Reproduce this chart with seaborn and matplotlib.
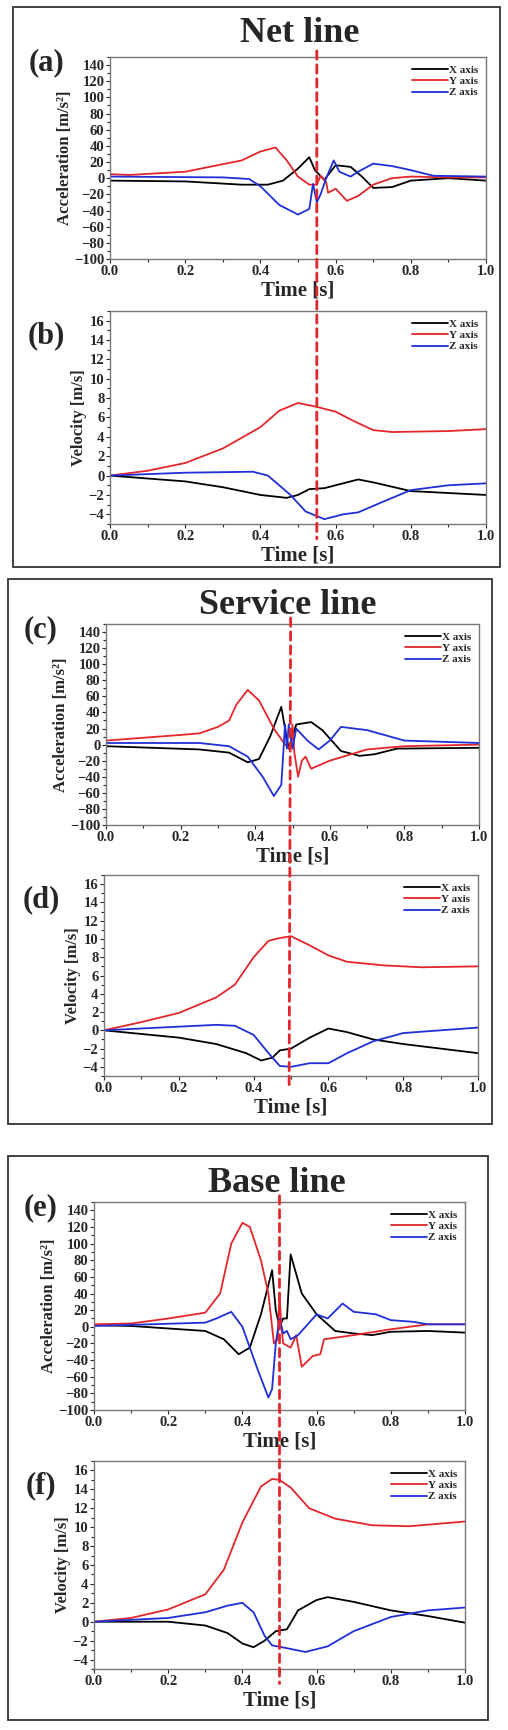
import numpy as np
import pandas as pd
import seaborn as sns
import matplotlib.pyplot as plt
from matplotlib.patches import ConnectionPatch, Rectangle
from matplotlib.transforms import blended_transform_factory
from matplotlib.ticker import MultipleLocator

sns.set_theme(style="white")
plt.rcParams['font.family'] = ['Liberation Serif', 'DejaVu Serif']
plt.rcParams['font.weight'] = 'bold'

# ---- data: (time, value) pairs ----
# (a) net line acceleration
a_x_t = [0, .2, .35, .42, .46, .5, .53, .545, .57, .6, .64, .67, .7, .75, .8, .9, 1.0]
a_x_v = [-3, -4, -8, -8, -3, 12, 26, 10, -2, 16, 14, 2, -12, -11, -3, 0, -3]
a_y_t = [0, .05, .2, .35, .4, .44, .47, .5, .53, .55, .56, .575, .58, .6, .63, .66, .7, .75, .8, .9, 1.0]
a_y_v = [5, 4, 8, 22, 33, 38, 22, 2, -8, -8, 3, -5, -18, -13, -28, -22, -8, 0, 2, 1, 1]
a_z_t = [0, .3, .37, .4, .45, .5, .53, .54, .55, .56, .575, .595, .61, .64, .66, .7, .75, .8, .86, 1.0]
a_z_v = [2, 1, -1, -10, -33, -45, -38, -7, -30, -20, 0, 22, 8, 2, 8, 18, 15, 10, 3, 2]
# (b) net line velocity
b_x_t = [0, .2, .3, .4, .47, .5, .53, .57, .6, .66, .7, .8, 1.0]
b_x_v = [0, -.6, -1.2, -2.0, -2.3, -2.0, -1.4, -1.3, -1.0, -.4, -.7, -1.6, -2.0]
b_y_t = [0, .1, .2, .3, .4, .45, .5, .55, .6, .65, .7, .75, .9, 1.0]
b_y_v = [0, .5, 1.3, 2.8, 5.0, 6.7, 7.5, 7.1, 6.6, 5.6, 4.7, 4.5, 4.6, 4.8]
b_z_t = [0, .2, .38, .42, .48, .52, .57, .62, .66, .72, .8, .9, 1.0]
b_z_v = [0, .3, .4, 0, -2.0, -3.7, -4.5, -4.0, -3.8, -2.8, -1.5, -1.0, -.8]
# (c) service line acceleration
c_x_t = [0, .25, .33, .38, .41, .44, .47, .48, .49, .51, .55, .58, .63, .68, .72, .78, 1.0]
c_x_v = [-2, -6, -10, -22, -18, 10, 47, 20, -5, 25, 28, 18, -8, -14, -12, -5, -4]
c_y_t = [0, .2, .25, .3, .33, .35, .38, .41, .45, .48, .495, .5, .505, .515, .525, .535, .55, .6, .7, .8, 1.0]
c_y_v = [5, 12, 14, 22, 30, 50, 68, 55, 20, 0, -5, 25, -10, -40, -20, -15, -30, -20, -6, -2, 0]
c_z_t = [0, .25, .33, .38, .42, .45, .47, .48, .485, .49, .5, .51, .54, .57, .6, .63, .7, .8, 1.0]
c_z_v = [2, 2, -2, -15, -40, -64, -50, 25, -5, 25, -5, 20, 5, -6, 5, 22, 18, 5, 2]
# (d) service line velocity
d_x_t = [0, .2, .3, .38, .42, .45, .47, .5, .55, .6, .65, .72, .8, 1.0]
d_x_v = [0, -.8, -1.5, -2.5, -3.3, -3.0, -2.2, -2.0, -.8, .2, -.2, -1.0, -1.5, -2.5]
d_y_t = [0, .1, .2, .3, .35, .4, .44, .47, .5, .55, .6, .65, .75, .85, 1.0]
d_y_v = [0, .9, 1.9, 3.6, 5.0, 8.0, 9.8, 10.1, 10.3, 9.3, 8.2, 7.5, 7.1, 6.9, 7.0]
d_z_t = [0, .3, .35, .4, .44, .47, .5, .55, .6, .65, .72, .8, 1.0]
d_z_v = [0, .6, .5, -.5, -2.5, -3.9, -4.0, -3.6, -3.6, -2.5, -1.2, -.3, .3]
# (e) base line acceleration
e_x_t = [0, .1, .2, .3, .35, .39, .42, .45, .48, .49, .5, .51, .52, .53, .56, .6, .65, .7, .75, .8, .9, 1.0]
e_x_v = [2, 1, -2, -5, -15, -33, -25, 15, 68, 20, 0, 10, 10, 87, 40, 15, -5, -8, -10, -6, -5, -7]
e_y_t = [0, .1, .2, .3, .34, .37, .4, .42, .45, .47, .485, .495, .5, .505, .51, .53, .545, .56, .59, .61, .62, .7, .8, .9, 1.0]
e_y_v = [3, 4, 10, 17, 40, 100, 125, 120, 80, 40, -20, -15, 40, 0, -20, -25, -10, -48, -35, -33, -15, -10, -3, 3, 3]
e_z_t = [0, .3, .33, .37, .4, .44, .47, .48, .49, .5, .51, .52, .53, .55, .6, .63, .67, .7, .76, .8, .86, .9, 1.0]
e_z_v = [1, 5, 10, 18, 0, -50, -85, -75, -20, 10, -8, -5, -15, -10, 15, 10, 28, 18, 15, 8, 6, 3, 3]
# (f) base line velocity
f_x_t = [0, .2, .3, .36, .4, .43, .46, .49, .52, .55, .6, .63, .7, .8, .9, 1.0]
f_x_v = [0, 0, -.4, -1.2, -2.3, -2.7, -2.0, -1.0, -.8, 1.2, 2.3, 2.6, 2.1, 1.2, .6, -.1]
f_y_t = [0, .1, .2, .3, .35, .4, .45, .48, .5, .53, .58, .65, .75, .85, 1.0]
f_y_v = [0, .4, 1.3, 2.9, 5.5, 10.5, 14.3, 15.1, 15.0, 14.2, 12.0, 10.9, 10.2, 10.1, 10.6]
f_z_t = [0, .2, .3, .36, .4, .43, .46, .48, .52, .57, .63, .7, .8, .9, 1.0]
f_z_v = [0, .4, 1.0, 1.7, 2.0, 1.0, -1.5, -2.5, -2.8, -3.2, -2.6, -1.0, .5, 1.2, 1.5]

titles = ["Net line", "Service line", "Base line"]
impact_times = [0.55, 0.495, 0.50]
acc_data = [((a_x_t, a_x_v), (a_y_t, a_y_v), (a_z_t, a_z_v)),
            ((c_x_t, c_x_v), (c_y_t, c_y_v), (c_z_t, c_z_v)),
            ((e_x_t, e_x_v), (e_y_t, e_y_v), (e_z_t, e_z_v))]
vel_data = [((b_x_t, b_x_v), (b_y_t, b_y_v), (b_z_t, b_z_v)),
            ((d_x_t, d_x_v), (d_y_t, d_y_v), (d_z_t, d_z_v)),
            ((f_x_t, f_x_v), (f_y_t, f_y_v), (f_z_t, f_z_v))]
series_names = ["X axis", "Y axis", "Z axis"]
colors = {"X axis": "black", "Y axis": "#e3262b", "Z axis": "#1f2fd6"}

# layout in pixels (left, right, top, bottom)
W, H = 508, 1730
boxes = [(13, 500, 7, 567), (8, 492, 579, 1124), (8, 488, 1156, 1720)]
acc_boxes = [(110, 486, 57, 259), (106, 479, 624, 825), (94, 465, 1202, 1410)]
vel_boxes = [(110, 486, 311, 524), (104, 478, 875, 1076), (94, 465, 1461, 1669)]
title_pos = [(300, 34), (288, 606), (277, 1183)]
letters = [("(a)", "(b)"), ("(c)", "(d)"), ("(e)", "(f)")]

fig = plt.figure(figsize=(W / 100, H / 100), dpi=100)


def add_ax(b):
    l, r, t, bt = b
    return fig.add_axes([l / W, 1 - bt / H, (r - l) / W, (bt - t) / H])


def style_ax(ax, ylim, ystep, ylabel):
    ax.set_xlim(0, 1)
    ax.set_ylim(*ylim)
    ax.xaxis.set_major_locator(MultipleLocator(0.2))
    ax.xaxis.set_minor_locator(MultipleLocator(0.1))
    ax.yaxis.set_major_locator(MultipleLocator(ystep))
    ax.yaxis.set_minor_locator(MultipleLocator(ystep / 2))
    ax.xaxis.set_major_formatter(plt.FormatStrFormatter('%.1f'))
    ax.tick_params(which='both', direction='out', length=3, width=0.8,
                   labelsize=10.5, bottom=True, left=True, pad=1)
    ax.tick_params(which='minor', length=2)
    for lab in ax.get_xticklabels() + ax.get_yticklabels():
        lab.set_fontweight('bold')
    for s in ax.spines.values():
        s.set_color('#777777')
        s.set_linewidth(1)
    ax.set_xlabel("Time [s]", fontsize=15, fontweight='bold', labelpad=2)
    ax.set_ylabel(ylabel, fontsize=12, fontweight='bold', labelpad=1)
    leg = ax.legend(loc='upper right', frameon=False, fontsize=8, handlelength=3.2,
                    labelspacing=0.15, borderaxespad=0.3, handletextpad=0.1)
    for t in leg.get_texts():
        t.set_fontweight('bold')


def draw(ax, data):
    for name, (t, v) in zip(series_names, data):
        df = pd.DataFrame({"t": t, "v": v})
        sns.lineplot(data=df, x="t", y="v", ax=ax, color=colors[name], label=name,
                     linewidth=1.3, sort=False)


for i in range(3):
    l, r, t, b = boxes[i]
    fig.patches.append(Rectangle((l / W, 1 - b / H), (r - l) / W, (b - t) / H,
                                 transform=fig.transFigure, fill=False,
                                 edgecolor='#333333', linewidth=1.3))
    fig.text(title_pos[i][0] / W, 1 - title_pos[i][1] / H, titles[i], ha='center',
             va='center', fontsize=26, fontweight='bold')
    ax1 = add_ax(acc_boxes[i])
    draw(ax1, acc_data[i])
    style_ax(ax1, (-100, 150), 20, "Acceleration [m/s²]")
    ax2 = add_ax(vel_boxes[i])
    draw(ax2, vel_data[i])
    style_ax(ax2, (-5, 17), 2, "Velocity [m/s]")
    fig.text((l + 33) / W, 1 - (acc_boxes[i][2] + 6) / H, letters[i][0],
             ha='center', va='center', fontsize=22, fontweight='bold')
    fig.text((l + 33) / W, 1 - (vel_boxes[i][2] + 25) / H, letters[i][1],
             ha='center', va='center', fontsize=22, fontweight='bold')
    tr1 = blended_transform_factory(ax1.transData, ax1.transAxes)
    tr2 = blended_transform_factory(ax2.transData, ax2.transAxes)
    x0 = impact_times[i]
    con = ConnectionPatch(xyA=(x0, 1.03), coordsA=tr1, xyB=(x0, -0.07), coordsB=tr2,
                          color='#e3262b', linestyle=(0, (3, 2)), linewidth=2)
    fig.add_artist(con)

fig.savefig("out.png", dpi=100)
